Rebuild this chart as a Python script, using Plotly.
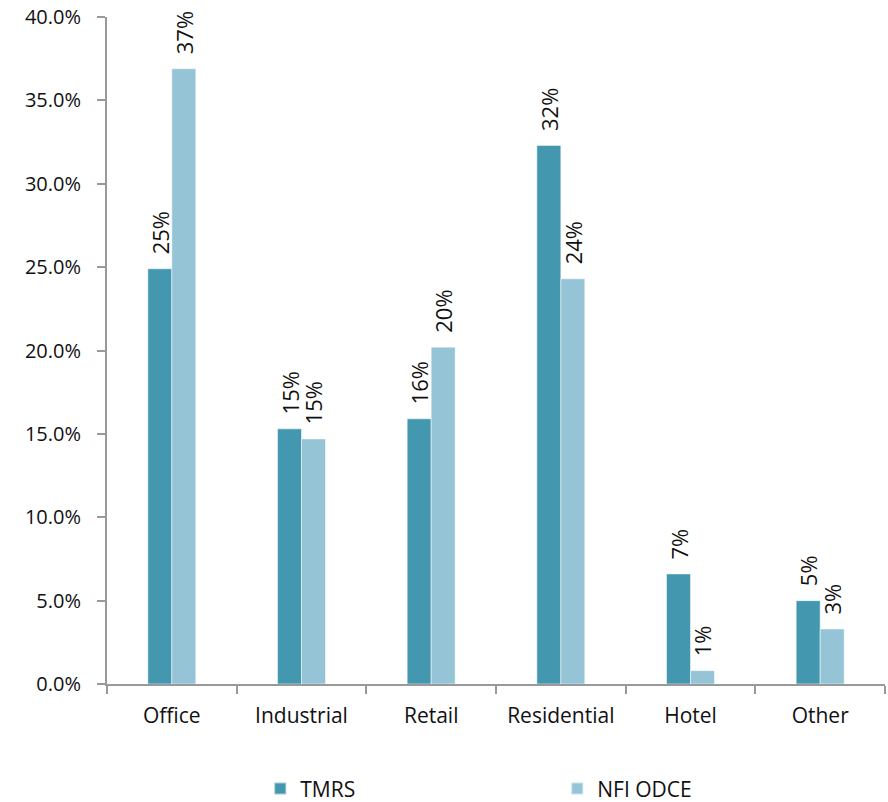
import plotly.graph_objects as go

# Property-type allocation (%), TMRS vs NFI ODCE
categories = ["Office", "Industrial", "Retail", "Residential", "Hotel", "Other"]
tmrs = [24.9, 15.3, 15.9, 32.3, 6.6, 5.0]
nfi_odce = [36.9, 14.7, 20.2, 24.3, 0.8, 3.3]
y_ticks = [0, 5, 10, 15, 20, 25, 30, 35, 40]

FONT = "Open Sans"
AXIS_GREY = "#999999"

fig = go.Figure()
for name, vals, color in [("TMRS", tmrs, "#4398AF"), ("NFI ODCE", nfi_odce, "#95C4D6")]:
    fig.add_trace(go.Bar(
        name=name,
        x=categories,
        y=vals,
        marker=dict(color=color, line=dict(color="rgba(255,255,255,0.5)", width=1)),
        texttemplate="\u00a0\u00a0%{y:.0f}%",
        textposition="outside",
        textangle=-90,
        constraintext="none",
        cliponaxis=False,
        textfont=dict(family=FONT, size=22, color="#111111"),
    ))

fig.update_layout(
    width=888,
    height=802,
    margin=dict(l=107, r=3, t=17, b=118),
    plot_bgcolor="white",
    paper_bgcolor="white",
    barmode="group",
    bargap=0.63,
    bargroupgap=0,
    font=dict(family=FONT, size=20, color="#111111"),
    legend=dict(
        orientation="h",
        x=0.197, xanchor="left",
        yref="container", y=0.042, yanchor="top",
        entrywidth=252, entrywidthmode="pixels",
        font=dict(family=FONT, size=21),
        itemsizing="constant",
    ),
    showlegend=True,
)
fig.update_xaxes(
    showline=True, linecolor=AXIS_GREY, linewidth=2,
    ticks="outside", tickson="boundaries", ticklen=8, tickcolor=AXIS_GREY, tickwidth=2,
    showgrid=False,
    tickfont=dict(family=FONT, size=21),
    ticklabelstandoff=12,
)
fig.update_yaxes(
    range=[0, 40],
    tickvals=y_ticks,
    ticktext=[f"{v:.1f}%" for v in y_ticks],
    showline=True, linecolor=AXIS_GREY, linewidth=2,
    ticks="outside", ticklen=8, tickcolor=AXIS_GREY, tickwidth=2,
    showgrid=False, zeroline=False,
    tickfont=dict(family=FONT, size=20),
    ticklabelstandoff=12,
)

fig.write_html("out.html")
